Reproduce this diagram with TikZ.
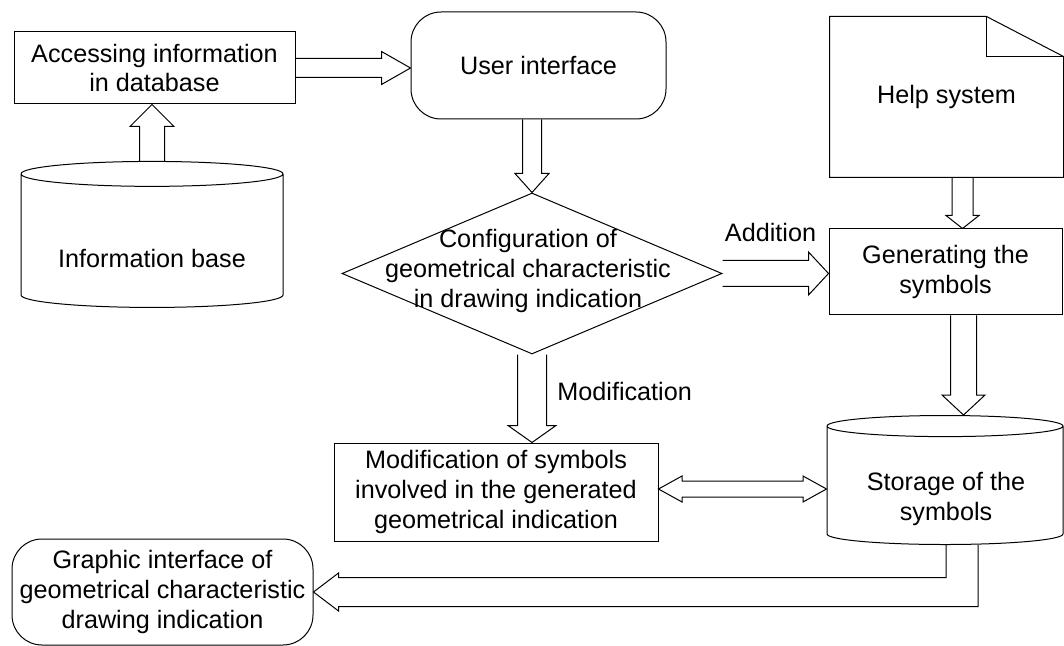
\documentclass[tikz,border=0pt]{standalone}
\usepackage{fontspec}
\setmainfont{Liberation Sans}
\usetikzlibrary{calc, shapes.geometric, positioning}

\newcommand{\diagfont}{\fontsize{12.6}{14.8}\selectfont}

% hollow block arrow: from, to, half shaft, half head, head length
\newcommand{\fatarrow}[5]{%
  \draw[fat] ($(#1)!#3!90:(#2)$)
    -- ($(#2)!#5!(#1)!#3!90:(#2)$)
    -- ($(#2)!#5!(#1)!#4!90:(#2)$)
    -- (#2)
    -- ($(#2)!#5!(#1)!#4!-90:(#2)$)
    -- ($(#2)!#5!(#1)!#3!-90:(#2)$)
    -- ($(#1)!#3!-90:(#2)$);}

% same, with a head at both ends
\newcommand{\fatarrowboth}[5]{%
  \draw[fat] (#1)
    -- ($(#1)!#5!(#2)!#4!90:(#2)$)
    -- ($(#1)!#5!(#2)!#3!90:(#2)$)
    -- ($(#2)!#5!(#1)!#3!90:(#2)$)
    -- ($(#2)!#5!(#1)!#4!90:(#2)$)
    -- (#2)
    -- ($(#2)!#5!(#1)!#4!-90:(#2)$)
    -- ($(#2)!#5!(#1)!#3!-90:(#2)$)
    -- ($(#1)!#5!(#2)!#3!-90:(#2)$)
    -- ($(#1)!#5!(#2)!#4!-90:(#2)$)
    -- cycle;}

\begin{document}
\begin{tikzpicture}[x=0.5pt, y=-0.5pt]
  \tikzset{
    proc/.style={draw, line width=0.5pt, rectangle, inner sep=1pt,
      align=center, font=\diagfont},
    term/.style={proc, rounded corners=15pt},
    dbase/.style={proc, cylinder, shape border rotate=90, aspect=0.13},
    decide/.style={proc, diamond},
    docpage/.style={proc, draw=none},
    lbl/.style={font=\diagfont, inner sep=1pt, align=center},
    fat/.style={line width=0.5pt, line join=miter},
  }
\useasboundingbox (0,0) rectangle (1064,646);

% ── Left column ───────────────────────────────────────────────
\node[proc, minimum width=140.5pt, minimum height=36pt] (access) at (154.5,68)
  {Accessing information\\in database};
\node[dbase, minimum width=131pt, minimum height=73pt] (infobase) at (152,242)
  {\phantom{Information base}};
\node[lbl] (infotext) at (152,258) {Information base};

% ── Middle column ─────────────────────────────────────────────
\node[term, minimum width=127.5pt, minimum height=53.5pt] (ui) at (538.5,65.5)
  {User interface};
\node[decide, minimum width=190pt, minimum height=80.5pt] (cfg) at (532,273.5) {};
\node[lbl] (cfgtext) at (528,271)
  {Configuration of\\geometrical characteristic\\in drawing indication};
\node[proc, minimum width=162pt, minimum height=49pt] (mod) at (496,492)
  {Modification of symbols\\involved in the generated\\geometrical indication};

% ── Right column ──────────────────────────────────────────────
\node[docpage, minimum width=116.5pt, minimum height=80pt] (help) at (946.5,97)
  {Help system};
\draw[fat] (help.south west) -- (help.north west)
  -- ([xshift=-38.5pt]help.north east) -- ([yshift=-20pt]help.north east)
  -- (help.south east) -- cycle;
\draw[fat] ([xshift=-38.5pt]help.north east) -- ++(0,40)
  -- ([yshift=-20pt]help.north east);
\node[proc, minimum width=116.5pt, minimum height=43pt] (gen) at (945.5,272)
  {Generating the\\symbols};
\node[dbase, minimum width=118pt, minimum height=64.5pt] (store) at (945,486.5)
  {\phantom{Storage of the}\\\phantom{symbols}};
\node[lbl] (storetext) at (946,499) {Storage of the\\symbols};

% ── Bottom ────────────────────────────────────────────────────
\node[term, minimum width=150.5pt, minimum height=53pt] (gui) at (162.5,592)
  {Graphic interface of\\geometrical characteristic\\drawing indication};

% ── Labels ────────────────────────────────────────────────────
\node[lbl] (addlbl) at (770.5,232) {Addition};
\node[lbl, anchor=west] (modlbl) at (555,391) {Modification};

% ── Block arrows ──────────────────────────────────────────────
\coordinate (uiin) at (access.east -| ui.west);
\fatarrow{access.east}{uiin}{4.75pt}{8.25pt}{14.5pt}

\coordinate (accin) at (infobase.north |- access.south);
\fatarrow{infobase.north}{accin}{6.25pt}{11pt}{11pt}

\coordinate (uiout) at (cfg.north |- ui.south);
\fatarrow{uiout}{cfg.north}{4.75pt}{8.5pt}{9.5pt}

\coordinate (helpout) at ([xshift=8pt]help.south);
\coordinate (genin) at (helpout |- gen.north);
\fatarrow{helpout}{genin}{5.25pt}{8.25pt}{6.5pt}

\coordinate (genside) at (cfg.east -| gen.west);
\fatarrow{cfg.east}{genside}{6.5pt}{10.75pt}{10pt}

\coordinate (genout) at ([xshift=9pt]gen.south);
\coordinate (storin) at (genout |- store.north);
\fatarrow{genout}{storin}{6.5pt}{10.75pt}{10pt}

\coordinate (modin) at (cfg.south |- mod.north);
\fatarrow{cfg.south}{modin}{7.25pt}{12pt}{8.5pt}

\coordinate (modside) at ([yshift=1.5pt]mod.east);
\coordinate (storside) at (modside -| store.west);
\fatarrowboth{modside}{storside}{4pt}{6.5pt}{11.75pt}

% storage -> graphic interface, bent
\coordinate (storout) at ([xshift=8.5pt]store.south);
\draw[fat] let \p1=(storout), \p2=(gui.east) in
  (\x1-8pt,\y1) |- (\x2+12.5pt,\y2+7.25pt) -- (\x2+12.5pt,\y2+9.5pt)
  -- (\p2) -- (\x2+12.5pt,\y2-9.5pt) -- (\x2+12.5pt,\y2-7.25pt)
  -| (\x1+8pt,\y1);

\end{tikzpicture}
\end{document}
